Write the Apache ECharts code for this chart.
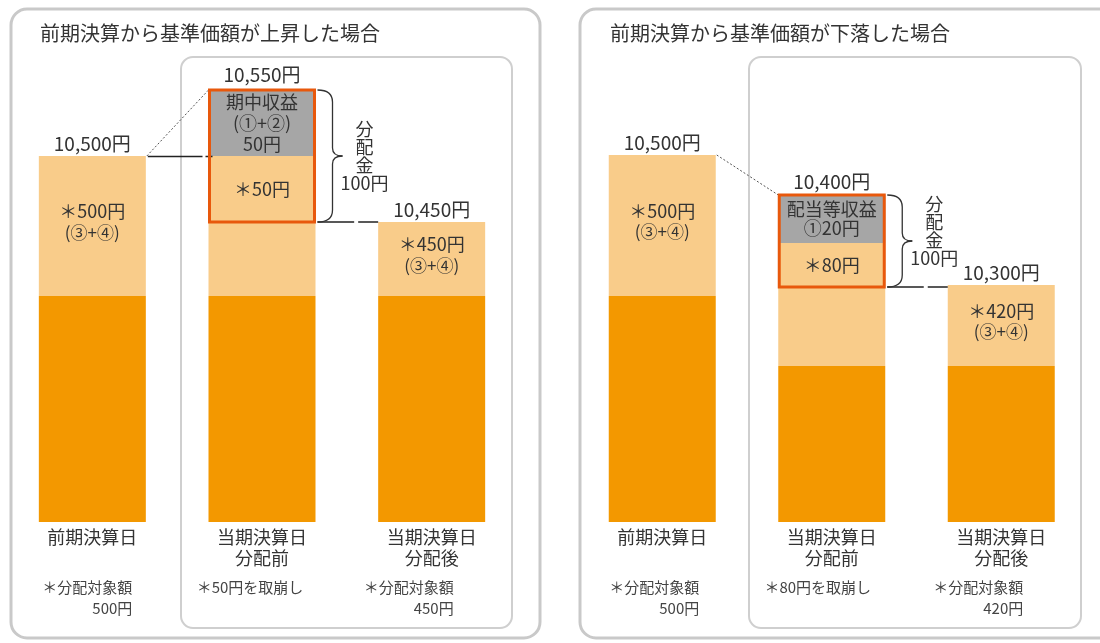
<!DOCTYPE html>
<html>
<head>
<meta charset="utf-8">
<script src="https://cdn.jsdelivr.net/npm/echarts@6/dist/echarts.min.js"></script>
<style>html,body{margin:0;padding:0;background:#fff}#c{width:1100px;height:643px}</style>
</head>
<body>
<div id="c"></div>
<script>
const FONT = '"Noto Sans CJK JP","Noto Sans",sans-serif';

const categories = ['前期決算日', '当期決算日\n分配前', '当期決算日\n分配後'];
const panelTitles = ['前期決算から基準価額が上昇した場合', '前期決算から基準価額が下落した場合'];

// Segment heights as drawn in the (not-to-scale) diagram, bottom to top
const upBase   = [226, 226, 226];
const upHeld   = [140, 74, 74];
const upDrawn  = [0, 66, 0];
const upIncome = [0, 66, 0];
const upTopLabels  = ['10,500円', '10,550円', '10,450円'];
const upHeldLabels = [['＊500円', '(③+④)'], null, ['＊450円', '(③+④)']];
const upDrawnLabel  = '＊50円';
const upIncomeLabel = ['期中収益', '(①+②)', '50円'];
const upNotes = ['＊分配対象額\n500円', '＊50円を取崩し', '＊分配対象額\n450円'];

const downBase   = [226, 156, 156];
const downHeld   = [141, 79, 81];
const downDrawn  = [0, 44, 0];
const downIncome = [0, 48, 0];
const downTopLabels  = ['10,500円', '10,400円', '10,300円'];
const downHeldLabels = [['＊500円', '(③+④)'], null, ['＊420円', '(③+④)']];
const downDrawnLabel  = '＊80円';
const downIncomeLabel = ['配当等収益', '①20円'];
const downNotes = ['＊分配対象額\n500円', '＊80円を取崩し', '＊分配対象額\n420円'];

const distributionLabel = ['分', '配', '金', '100円'];

const panels = [
  {base: upBase, held: upHeld, drawn: upDrawn, income: upIncome, tops: upTopLabels,
   heldLabels: upHeldLabels, drawnLabel: upDrawnLabel, incomeLabel: upIncomeLabel, notes: upNotes,
   up: true, incomeLH: 21},
  {base: downBase, held: downHeld, drawn: downDrawn, income: downIncome, tops: downTopLabels,
   heldLabels: downHeldLabels, drawnLabel: downDrawnLabel, incomeLabel: downIncomeLabel, notes: downNotes,
   up: false, incomeLH: 19}
];

const C_DARK = '#f39800', C_LIGHT = '#f9cc8a', C_GRAY = '#a6a6a6', C_BOX = '#e8580c', C_TEXT = '#333';
const BAR_W = 107;

const chart = echarts.init(document.getElementById('c'), null, {renderer: 'canvas'});

const grids = [
  {left: 7.5, width: 509, top: 22, height: 500},
  {left: 577.5, width: 508.5, top: 22, height: 500}
];

const series = [];
panels.forEach((p, g) => {
  const common = {type: 'bar', xAxisIndex: g, yAxisIndex: g, stack: 's' + g, barWidth: BAR_W, barGap: '-100%', silent: true};
  series.push(Object.assign({}, common, {name: 'base' + g, itemStyle: {color: C_DARK}, data: p.base}));
  series.push(Object.assign({}, common, {
    name: 'held' + g, itemStyle: {color: C_LIGHT},
    data: p.held.map((v, i) => p.heldLabels[i] ? {
      value: v,
      label: {show: true, position: 'inside', offset: [0, -4],
        formatter: '{a|' + p.heldLabels[i][0] + '}\n{b|' + p.heldLabels[i][1] + '}',
        rich: {a: {fontFamily: FONT, fontSize: 18, color: C_TEXT, lineHeight: 21},
               b: {fontFamily: FONT, fontSize: 17, color: C_TEXT, lineHeight: 21}}}
    } : v)
  }));
  series.push(Object.assign({}, common, {
    name: 'drawn' + g, itemStyle: {color: C_LIGHT},
    data: p.drawn.map(v => v ? {value: v, label: {show: true, position: 'inside', formatter: p.drawnLabel,
      fontFamily: FONT, fontSize: 18, color: C_TEXT}} : v)
  }));
  series.push(Object.assign({}, common, {
    name: 'income' + g, itemStyle: {color: C_GRAY},
    data: p.income.map(v => v ? {value: v, label: {show: true, position: 'inside',
      formatter: p.incomeLabel.map(t => '{a|' + t + '}').join('\n'),
      rich: {a: {fontFamily: FONT, fontSize: 18, color: C_TEXT, lineHeight: p.incomeLH}}}} : v)
  }));
  // transparent overlay carrying the value labels on top of each bar
  series.push({
    type: 'bar', name: 'top' + g, xAxisIndex: g, yAxisIndex: g, barWidth: BAR_W, barGap: '-100%', silent: true,
    itemStyle: {color: 'rgba(0,0,0,0)'}, z: 1,
    label: {show: true, position: 'top', distance: 3, fontFamily: FONT, fontSize: 19, color: C_TEXT,
      formatter: prm => p.tops[prm.dataIndex]},
    data: p.base.map((v, i) => ({
      value: v + p.held[i] + p.drawn[i] + p.income[i],
      label: i === 1 ? {distance: p.up ? 6 : 4} : {}
    }))
  });
});

const option = {
  backgroundColor: '#fff',
  animation: false,
  grid: grids,
  xAxis: grids.map((gr, g) => ({
    type: 'category', gridIndex: g, data: categories,
    axisLine: {show: false}, axisTick: {show: false},
    axisLabel: {fontFamily: FONT, fontSize: 18, color: C_TEXT, lineHeight: 21, margin: 5, interval: 0}
  })),
  yAxis: grids.map((gr, g) => ({type: 'value', gridIndex: g, min: 0, max: 500, show: false, splitLine: {show: false}})),
  series: series
};
chart.setOption(option);

// decorations positioned through the axes' own scales
const gfx = [];
gfx.push({type: 'rect', z: 0, shape: {x: 11, y: 9, width: 529, height: 629, r: 16}, style: {fill: 'none', stroke: '#c9c9c9', lineWidth: 3}});
gfx.push({type: 'rect', z: 0, shape: {x: 580, y: 9, width: 560, height: 629, r: 16}, style: {fill: 'none', stroke: '#c9c9c9', lineWidth: 3}});
gfx.push({type: 'rect', z: 0, shape: {x: 181, y: 57, width: 331, height: 571, r: 12}, style: {fill: 'none', stroke: '#cfcfcf', lineWidth: 2}});
gfx.push({type: 'rect', z: 0, shape: {x: 749, y: 57, width: 332, height: 571, r: 12}, style: {fill: 'none', stroke: '#cfcfcf', lineWidth: 2}});
gfx.push({type: 'text', z: 10, style: {text: panelTitles[0], x: 40, y: 33, font: '20px ' + FONT, fill: C_TEXT, verticalAlign: 'middle'}});
gfx.push({type: 'text', z: 10, style: {text: panelTitles[1], x: 610, y: 33, font: '20px ' + FONT, fill: C_TEXT, verticalAlign: 'middle'}});

const noteOffsets = [[40, 'right'], [-12, 'center'], [22, 'right']];
const noteOffsetsR = [[37, 'right'], [-14, 'center'], [22, 'right']];
const braceStyle = {fill: 'none', stroke: '#333', lineWidth: 1.3};

panels.forEach((p, g) => {
  const px = (i, v) => chart.convertToPixel({gridIndex: g}, [i, v]);
  const half = BAR_W / 2;
  const tot = i => p.base[i] + p.held[i] + p.drawn[i] + p.income[i];
  const c = [0, 1, 2].map(i => px(i, 0)[0]);
  const top0 = px(0, tot(0))[1];
  const boxTop = px(1, tot(1))[1];
  const boxBot = px(1, p.base[1] + p.held[1])[1];
  const boxL = c[1] - half, boxR = c[1] + half;

  gfx.push({type: 'rect', z: 100, shape: {x: boxL + 1, y: boxTop, width: BAR_W - 2, height: boxBot - boxTop},
    style: {fill: 'none', stroke: C_BOX, lineWidth: 3}});
  gfx.push({type: 'line', z: 90, shape: {x1: c[0] + half + 1, y1: top0, x2: boxL, y2: boxTop},
    style: {stroke: '#555', lineWidth: 1, lineDash: [2, 2]}});
  if (p.up) {
    const x1 = c[0] + half + 2, x2 = boxL + 4;
    gfx.push({type: 'line', z: 90, shape: {x1: x1, y1: top0 + 0.5, x2: x2, y2: top0 + 0.5},
      style: {stroke: '#222', lineWidth: 1.5, lineDash: [x2 - x1 - 10, 3, 7, 3]}});
  }
  {
    const x1 = boxR + 2, x2 = c[2] - half;
    gfx.push({type: 'line', z: 90, shape: {x1: x1, y1: boxBot, x2: x2, y2: boxBot},
      style: {stroke: '#222', lineWidth: 1.5, lineDash: [x2 - x1 - 24, 4, 20, 4]}});
  }
  // brace built from curve and line pieces
  const x0 = boxR + 2, xb = x0 + 15, tip = x0 + 25, mid = (boxTop + boxBot) / 2;
  const bz = (a, b, cp) => ({type: 'bezierCurve', z: 90, shape: {x1: a[0], y1: a[1], x2: b[0], y2: b[1], cpx1: cp[0], cpy1: cp[1]}, style: braceStyle});
  const ln = (a, b) => ({type: 'line', z: 90, shape: {x1: a[0], y1: a[1], x2: b[0], y2: b[1]}, style: braceStyle});
  gfx.push(bz([x0, boxTop], [xb, boxTop + 12], [xb, boxTop]));
  gfx.push(ln([xb, boxTop + 12], [xb, mid - 8]));
  gfx.push(bz([xb, mid - 8], [tip, mid], [xb, mid]));
  gfx.push(bz([tip, mid], [xb, mid + 8], [xb, mid]));
  gfx.push(ln([xb, mid + 8], [xb, boxBot - 12]));
  gfx.push(bz([xb, boxBot - 12], [x0, boxBot], [xb, boxBot]));
  gfx.push({type: 'text', z: 90, style: {text: distributionLabel.join('\n'), x: boxR + 49, y: mid + (p.up ? 0 : -10),
    font: '18px ' + FONT, lineHeight: 18, fill: C_TEXT, align: 'center', verticalAlign: 'middle'}});
  const offs = g === 0 ? noteOffsets : noteOffsetsR;
  p.notes.forEach((t, i) => {
    gfx.push({type: 'text', z: 90, style: {text: t, x: c[i] + offs[i][0], y: 577, font: '15px ' + FONT,
      lineHeight: 21, fill: '#444', align: offs[i][1], verticalAlign: 'top'}});
  });
});

chart.setOption({graphic: gfx});
</script>
</body>
</html>
